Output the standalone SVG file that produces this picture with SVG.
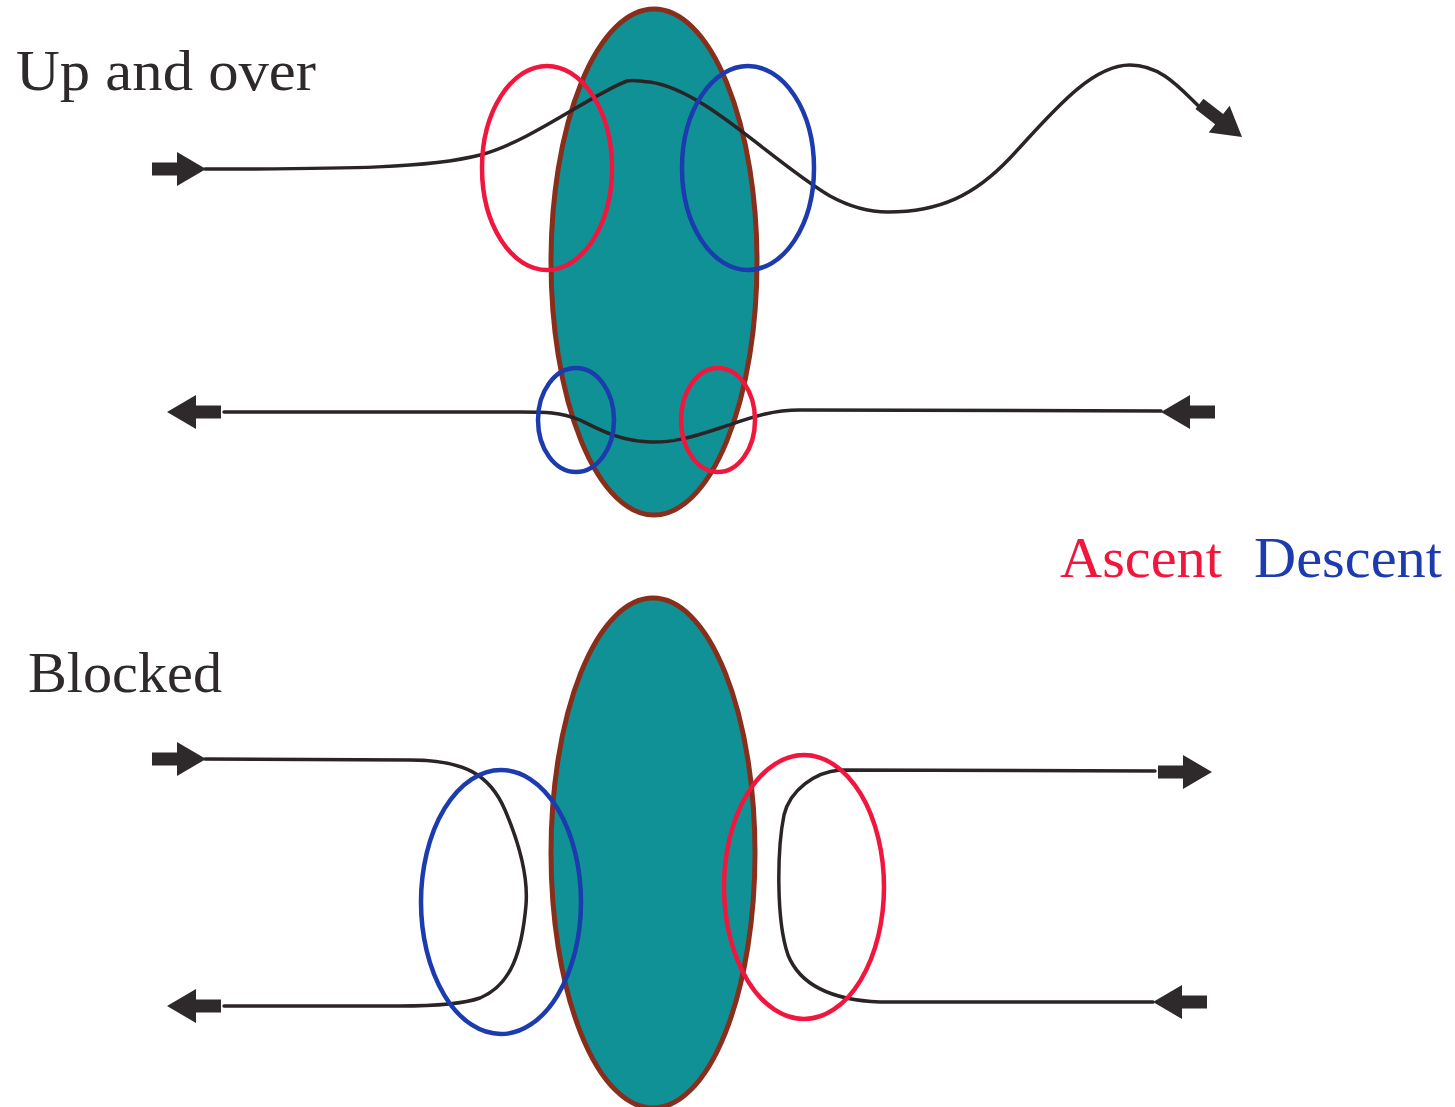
<svg xmlns="http://www.w3.org/2000/svg" width="1455" height="1107" viewBox="0 0 1455 1107">
<style>
.body{fill:#109196;stroke:#8a2e1c;stroke-width:5}
.asc{fill:none;stroke:#f0163e;stroke-width:4.5}
.des{fill:none;stroke:#1c3bae;stroke-width:4.5}
.flow{fill:none;stroke:#2a2426;stroke-width:3.5;stroke-linecap:round;stroke-linejoin:round}
.lbl{font-family:"Liberation Serif","Times New Roman",serif;font-size:56px;fill:#2e292b}
.arr{fill:#2e292b}
</style>
<defs>
<path id="ah" d="M0,0 L-29,-17 L-29,-6.5 L-54,-6.5 L-54,6.5 L-29,6.5 L-29,17 Z"/>
</defs>
<rect width="1455" height="1107" fill="#ffffff"/>
<g id="body-top"><ellipse class="body" cx="654" cy="262" rx="103" ry="253"/></g>
<g id="body-bottom"><ellipse class="body" cx="653" cy="853" rx="102" ry="255"/></g>
<g id="connectors">
<path class="flow" d="M205,169 C350,169 430,168 480,155 S590,95 627,81 C635,79 641,82 650,82 C705,90 770,160 830,196 C850,207 870,212 888,212 C940,212 975,195 1010,158 C1050,115 1090,65 1130,65 C1165,65 1185,95 1205,112"/>
<path class="flow" d="M1161,411 L800,410 C770,410 750,418 720,428 C690,438 670,443 650,442 C620,441 600,430 580,420 C560,412 545,412 520,412 L224,412"/>
<path class="flow" d="M205,759 L410,760 C465,760 490,775 505,810 C522,850 528,880 526,905 C522,950 512,985 480,998 C460,1005 430,1006 400,1006 L224,1006"/>
<path class="flow" d="M1155,771 L840,770 C815,772 790,790 784,815 C777,850 776,920 788,955 C800,985 830,1000 880,1002 L1153,1002"/>
<use href="#ah" class="arr" transform="translate(206,169)"/>
<use href="#ah" class="arr" transform="translate(1242,137) rotate(38)"/>
<use href="#ah" class="arr" transform="translate(167,412) rotate(180)"/>
<use href="#ah" class="arr" transform="translate(1161,412) rotate(180)"/>
<use href="#ah" class="arr" transform="translate(206,759)"/>
<use href="#ah" class="arr" transform="translate(167,1006) rotate(180)"/>
<use href="#ah" class="arr" transform="translate(1212,772)"/>
<use href="#ah" class="arr" transform="translate(1153,1002) rotate(180)"/>
</g>
<g id="asc-top"><ellipse class="asc" cx="547" cy="168" rx="65" ry="102"/></g>
<g id="des-top"><ellipse class="des" cx="748" cy="168" rx="66" ry="102"/></g>
<g id="des-mid"><ellipse class="des" cx="576" cy="420" rx="38" ry="52"/></g>
<g id="asc-mid"><ellipse class="asc" cx="718" cy="420" rx="37" ry="52"/></g>
<g id="des-bottom"><ellipse class="des" cx="501" cy="902" rx="80" ry="132"/></g>
<g id="asc-bottom"><ellipse class="asc" cx="804" cy="887" rx="80" ry="132"/></g>
<g id="labels">
<text class="lbl" x="16" y="90" textLength="300" lengthAdjust="spacingAndGlyphs">Up and over</text>
<text class="lbl" x="28" y="692" textLength="194" lengthAdjust="spacingAndGlyphs">Blocked</text>
<text class="lbl" x="1060" y="577" textLength="162" lengthAdjust="spacingAndGlyphs" style="fill:#f0163e">Ascent</text>
<text class="lbl" x="1254" y="577" textLength="188" lengthAdjust="spacingAndGlyphs" style="fill:#1c3bae">Descent</text>
</g>
</svg>
